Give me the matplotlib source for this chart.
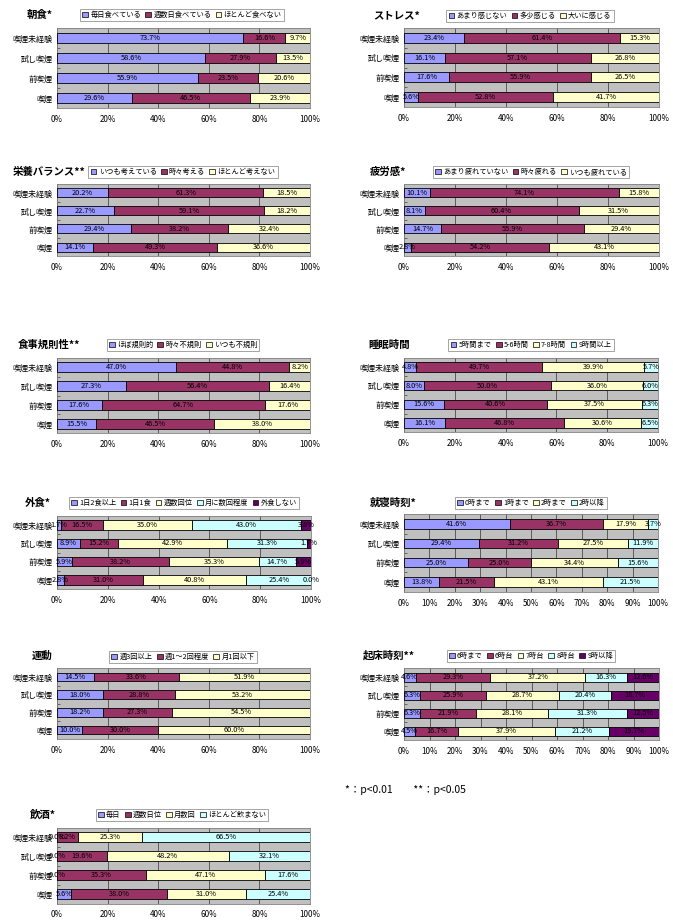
import numpy as np
import matplotlib
matplotlib.use('Agg')
import matplotlib.pyplot as plt
from matplotlib.patches import Rectangle
from matplotlib.ticker import MultipleLocator, FuncFormatter

plt.rcParams['font.family'] = ['Noto Sans CJK JP', 'DejaVu Sans']

W, H = 673, 924

GROUPS = ['喫煙未経験', '試し喫煙', '前喫煙', '喫煙']
COLORS = ['#9999FF', '#993366', '#FFFFCC', '#CCFFFF', '#660066']

# rows follow GROUPS, columns follow the legend items
breakfast_items = ['毎日食べている', '週数日食べている', 'ほとんど食べない']
breakfast = [[73.7, 16.6, 9.7], [58.6, 27.9, 13.5], [55.9, 23.5, 20.6], [29.6, 46.5, 23.9]]

stress_items = ['あまり感じない', '多少感じる', '大いに感じる']
stress = [[23.4, 61.4, 15.3], [16.1, 57.1, 26.8], [17.6, 55.9, 26.5], [5.6, 52.8, 41.7]]

nutrition_items = ['いつも考えている', '時々考える', 'ほとんど考えない']
nutrition = [[20.2, 61.3, 18.5], [22.7, 59.1, 18.2], [29.4, 38.2, 32.4], [14.1, 49.3, 36.6]]

fatigue_items = ['あまり疲れていない', '時々疲れる', 'いつも疲れている']
fatigue = [[10.1, 74.1, 15.8], [8.1, 60.4, 31.5], [14.7, 55.9, 29.4], [2.8, 54.2, 43.1]]

regular_items = ['ほぼ規則的', '時々不規則', 'いつも不規則']
regular = [[47.0, 44.8, 8.2], [27.3, 56.4, 16.4], [17.6, 64.7, 17.6], [15.5, 46.5, 38.0]]

sleep_items = ['5時間まで', '5-6時間', '7-8時間', '9時間以上']
sleep = [[4.8, 49.7, 39.9, 5.7], [8.0, 50.0, 36.0, 6.0], [15.6, 40.6, 37.5, 6.3], [16.1, 46.8, 30.6, 6.5]]

eatout_items = ['1日2食以上', '1日1食', '週数回位', '月に数回程度', '外食しない']
eatout = [[1.7, 16.5, 35.0, 43.0, 3.8], [8.9, 15.2, 42.9, 31.3, 1.7],
          [5.9, 38.2, 35.3, 14.7, 5.9], [2.8, 31.0, 40.8, 25.4, 0.0]]

bedtime_items = ['0時まで', '1時まで', '2時まで', '2時以降']
bedtime = [[41.6, 36.7, 17.9, 3.7], [29.4, 31.2, 27.5, 11.9], [25.0, 25.0, 34.4, 15.6], [13.8, 21.5, 43.1, 21.5]]

exercise_items = ['週3回以上', '週1～2回程度', '月1回以下']
exercise = [[14.5, 33.6, 51.9], [18.0, 28.8, 53.2], [18.2, 27.3, 54.5], [10.0, 30.0, 60.0]]

wakeup_items = ['6時まで', '6時台', '7時台', '8時台', '9時以降']
wakeup = [[4.6, 29.3, 37.2, 16.3, 12.6], [6.3, 25.9, 28.7, 20.4, 18.7],
          [6.3, 21.9, 28.1, 31.3, 12.5], [4.5, 16.7, 37.9, 21.2, 19.7]]

drink_items = ['毎日', '週数日位', '月数回', 'ほとんど飲まない']
drink = [[0.0, 8.2, 25.3, 66.5], [0.0, 19.6, 48.2, 32.1], [0.0, 35.3, 47.1, 17.6], [5.6, 38.0, 31.0, 25.4]]

# title, items, values, x step, then pixel layout:
# plot left, plot right, first bar y, last bar y, legend centre, title position
panels = [
    ('朝食*', breakfast_items, breakfast, 20, 57, 310, 38, 98, (182, 15), (27, 15)),
    ('ストレス*', stress_items, stress, 20, 404, 659, 38, 97, (530, 16), (373, 15)),
    ('栄養バランス**', nutrition_items, nutrition, 20, 57, 310, 193, 247, (183, 172), (13, 172)),
    ('疲労感*', fatigue_items, fatigue, 20, 404, 659, 193, 247, (531, 172), (370, 172)),
    ('食事規則性**', regular_items, regular, 20, 57, 310, 367, 424, (183, 345), (18, 345)),
    ('睡眠時間', sleep_items, sleep, 20, 404, 658, 367, 423, (531, 345), (368, 345)),
    ('外食*', eatout_items, eatout, 20, 57, 311, 525, 580, (184, 503), (25, 503)),
    ('就寝時刻*', bedtime_items, bedtime, 10, 404, 658, 524, 582, (531, 503), (370, 503)),
    ('運動', exercise_items, exercise, 20, 57, 310, 677, 730, (183, 657), (32, 656)),
    ('起床時刻**', wakeup_items, wakeup, 10, 404, 659, 677, 731, (531, 656), (363, 655)),
    ('飲酒*', drink_items, drink, 20, 57, 310, 837, 894, (182, 815), (30, 815)),
]

fig = plt.figure(figsize=(W / 100, H / 100), dpi=100)
fig.patch.set_facecolor('white')

for title, items, vals, step, x0, x1, c1, c4, leg, tpos in panels:
    s = (c4 - c1) / 3
    top, bot = c1 - s / 2, c4 + s / 2
    ax = fig.add_axes([x0 / W, 1 - bot / H, (x1 - x0) / W, (bot - top) / H])
    ax.set_facecolor('#C0C0C0')
    vals = np.array(vals)
    y = np.arange(len(GROUPS))
    left = np.zeros(len(GROUPS))
    for j, name in enumerate(items):
        ax.barh(y, vals[:, j], left=left, height=0.5, color=COLORS[j],
                edgecolor='black', linewidth=0.6, zorder=3)
        for i in range(len(GROUPS)):
            ax.text(left[i] + vals[i, j] / 2, y[i], f'{vals[i, j]:.1f}%',
                    ha='center', va='center', fontsize=5.3, color='black', zorder=4)
        left += vals[:, j]

    ax.set_xlim(0, 100)
    ax.set_ylim(3.5, -0.5)
    ax.xaxis.set_major_locator(MultipleLocator(step))
    ax.xaxis.set_major_formatter(FuncFormatter(lambda v, p: f'{v:.0f}%'))
    ax.grid(axis='x', color='#333333', linewidth=0.5, zorder=1)
    ax.set_yticks(y)
    ax.set_yticklabels(GROUPS)
    ax.set_yticks([0.5, 1.5, 2.5], minor=True)
    ax.tick_params(axis='y', which='major', length=0, labelsize=5.8, pad=3)
    ax.tick_params(axis='y', which='minor', length=2.5, direction='in', color='#555555')
    ax.tick_params(axis='x', length=0, labelsize=5.8, pad=5)
    for sp in ax.spines.values():
        sp.set_color('#808080')
        sp.set_linewidth(0.6)

    handles = [Rectangle((0, 0), 1, 1, facecolor=COLORS[j], edgecolor='black', linewidth=0.5)
               for j in range(len(items))]
    lg = ax.legend(handles, items, loc='center', ncol=len(items),
                   bbox_to_anchor=(leg[0] / W, 1 - leg[1] / H), bbox_transform=fig.transFigure,
                   fontsize=5.2, handlelength=0.8, handleheight=0.8, handletextpad=0.3,
                   columnspacing=0.6, borderpad=0.3, fancybox=False, framealpha=1)
    lg.get_frame().set_edgecolor('#808080')
    lg.get_frame().set_linewidth(0.5)

    fig.text(tpos[0] / W, 1 - tpos[1] / H, title, fontsize=7.5, fontweight='bold',
             ha='left', va='center')

fig.text(345 / W, 1 - 790 / H, '*：p<0.01　　**：p<0.05', fontsize=7.5, ha='left', va='center')

fig.savefig('out.png', dpi=100)
